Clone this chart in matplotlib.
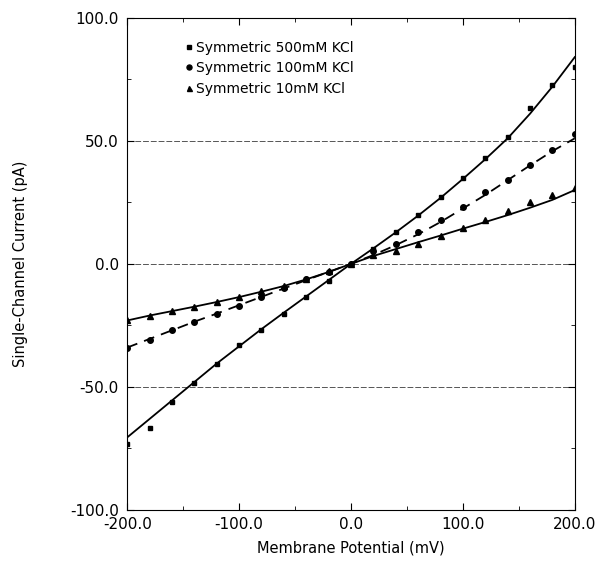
import numpy as np
import matplotlib
matplotlib.use('Agg')
import matplotlib.pyplot as plt
from matplotlib.ticker import MultipleLocator, FormatStrFormatter

plt.rcParams['font.family'] = ['DejaVu Sans']

# Membrane potential (mV)
voltage = np.arange(-200, 201, 20)

kcl_500 = [-73, -66.5, -56, -48.5, -40.5, -33, -26.7, -20.4, -13.5, -6.8, 0,
           6, 13, 20, 27, 35, 43, 51.5, 63.4, 72.5, 80]
kcl_100 = [-34, -31, -27, -23.5, -20.3, -17, -13.5, -9.8, -6, -3.3, 0,
           5.3, 8.1, 13, 18, 23, 29, 34, 40, 46.3, 52.8]
kcl_10 = [-22.8, -21, -19, -17.5, -15.5, -13.4, -11, -9, -6, -3, 0,
          3.4, 5.3, 8, 11.5, 14.5, 18, 21.5, 25, 28, 31]

# fitted curves drawn through the points
fit_500 = [-70.5, -63, -55.5, -48, -40.5, -33.5, -26.5, -19.8, -13.2, -6.6, 0,
           6.3, 12.8, 19.6, 26.8, 34.5, 42.5, 51, 61, 72, 84]
fit_100 = [-34, -30.5, -27, -23.5, -20.2, -16.8, -13.4, -10, -6.6, -3.3, 0,
           3.6, 7.6, 12, 17, 22.5, 28, 34, 40, 45.8, 51]
fit_10 = [-23, -21, -19.2, -17.4, -15.5, -13.5, -11.3, -9, -6.3, -3.3, 0,
          3.2, 6, 8.8, 11.5, 14.3, 17, 19.8, 22.8, 26, 30]

labels = ['Symmetric 500mM KCl', 'Symmetric 100mM KCl', 'Symmetric 10mM KCl']

fig = plt.figure(figsize=(6, 5.62), dpi=100)
ax = fig.add_axes([0.212, 0.0925, 0.746, 0.876])

for y in (-50, 0, 50):
    ax.axhline(y, color='#555555', lw=0.7, ls=(0, (6, 2)), zorder=1)

ax.plot(voltage, fit_500, color='black', lw=1.3, zorder=2)
ax.plot(voltage, fit_100, color='black', lw=1.3, ls=(0, (6, 4)), zorder=2)
ax.plot(voltage, fit_10, color='black', lw=1.3, zorder=2)

ax.plot(voltage, kcl_500, 's', color='black', ms=3.5, ls='none', label=labels[0], zorder=3)
ax.plot(voltage, kcl_100, 'o', color='black', ms=4, ls='none', label=labels[1], zorder=3)
ax.plot(voltage, kcl_10, '^', color='black', ms=4, ls='none', label=labels[2], zorder=3)

ax.set_xlim(-200, 200)
ax.set_ylim(-100, 100)
ax.xaxis.set_major_locator(MultipleLocator(100))
ax.xaxis.set_minor_locator(MultipleLocator(50))
ax.yaxis.set_major_locator(MultipleLocator(50))
ax.yaxis.set_minor_locator(MultipleLocator(25))
ax.xaxis.set_major_formatter(FormatStrFormatter('%.1f'))
ax.yaxis.set_major_formatter(FormatStrFormatter('%.1f'))
ax.tick_params(which='both', direction='in', top=True, right=True, labelsize=11)
ax.tick_params(which='major', length=5)
ax.tick_params(which='minor', length=3)
ax.tick_params(axis='x', pad=5)
ax.tick_params(axis='y', pad=6)

ax.set_xlabel('Membrane Potential (mV)', fontsize=10.5, labelpad=6)
ax.set_ylabel('Single-Channel Current (pA)', fontsize=10.5, labelpad=30)

ax.legend(loc='upper left', bbox_to_anchor=(0.1, 0.978), frameon=False, fontsize=10,
          handlelength=0.6, handletextpad=0.2, labelspacing=0.45, markerscale=0.9)

fig.savefig('out.png', dpi=100)
